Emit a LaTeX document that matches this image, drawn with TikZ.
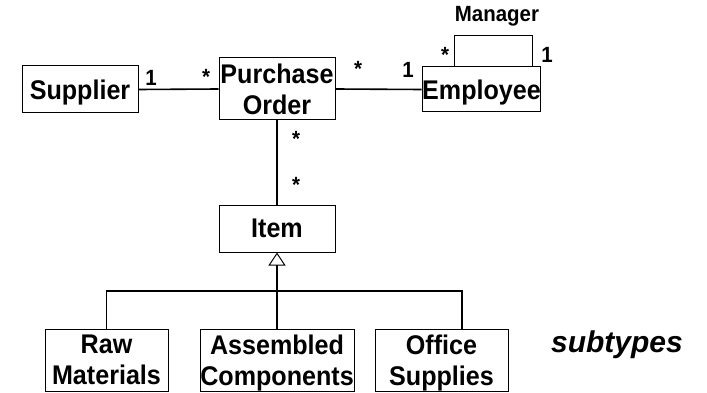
\documentclass[tikz,border=0pt]{standalone}
\usepackage{fontspec}
\setmainfont{Liberation Sans}[FakeStretch=0.93]
\newfontfamily\notefont{Liberation Sans}
\usetikzlibrary{arrows.meta}
\begin{document}
\begin{tikzpicture}[x=1pt,y=-1pt,
  cls/.style={draw,line width=1pt,inner sep=0pt,align=center,text depth=0pt,
    font=\fontsize{27pt}{31pt}\selectfont\bfseries},
  link/.style={line width=1.6pt},
  mult/.style={anchor=base,inner sep=0pt,font=\fontsize{22pt}{25pt}\selectfont\bfseries},
  gen/.style={link,-{Triangle[open,length=13pt,width=17pt,line width=1pt]}}]
\useasboundingbox (0,0) rectangle (707,393);

% classes
\node[cls,minimum width=116pt,minimum height=47pt] (sup) at (80,89.5) {Supplier};
\node[cls,minimum width=116pt,minimum height=62pt] (po) at (277,89) {Purchase\\Order};
\node[cls,minimum width=117pt,minimum height=45pt] (emp) at (481.5,89.5) {Employee};
\node[cls,minimum width=116pt,minimum height=47pt] (item) at (277,228.5) {Item};
\node[cls,minimum width=123pt,minimum height=62pt] (raw) at (106.5,360) {Raw\\Materials};
\node[cls,minimum width=154pt,minimum height=62pt] (asm) at (277,360) {Assembled\\Components};
\node[cls,minimum width=133pt,minimum height=62pt] (off) at (441.5,360) {Office\\Supplies};

% associations
\draw[link] (sup.east) -- (po.west);
\draw[link] (po.east) -- (emp.west);
\draw[link] (po.south) -- (item.north);
\draw[line width=1pt] ([xshift=-27.5pt]emp.north) -- ++(0,-31) -| ([xshift=50.5pt]emp.north);

% generalization
\coordinate (bar) at (277,291);
\draw[gen] (asm.north) -- (item.south);
\draw[link] (raw.north) |- (bar) -| ([xshift=20.5pt]off.north);

% multiplicities and role name
\node[mult] (m1) at (151,86) {1};
\node[mult] (m2) at (206,85) {*};
\node[mult] (m3) at (358,77) {*};
\node[mult] (m4) at (408,78) {1};
\node[mult] (m5) at (445,63) {*};
\node[mult] (m6) at (547,63) {1};
\node[mult] (mgr) at (497,22) {Manager};
\node[mult] (m7) at (296,147) {*};
\node[mult] (m8) at (296,193) {*};

\node[anchor=base,inner sep=0pt,font=\notefont\fontsize{30pt}{34pt}\selectfont\bfseries\itshape] (sub) at (617,352) {subtypes};
\end{tikzpicture}
\end{document}
